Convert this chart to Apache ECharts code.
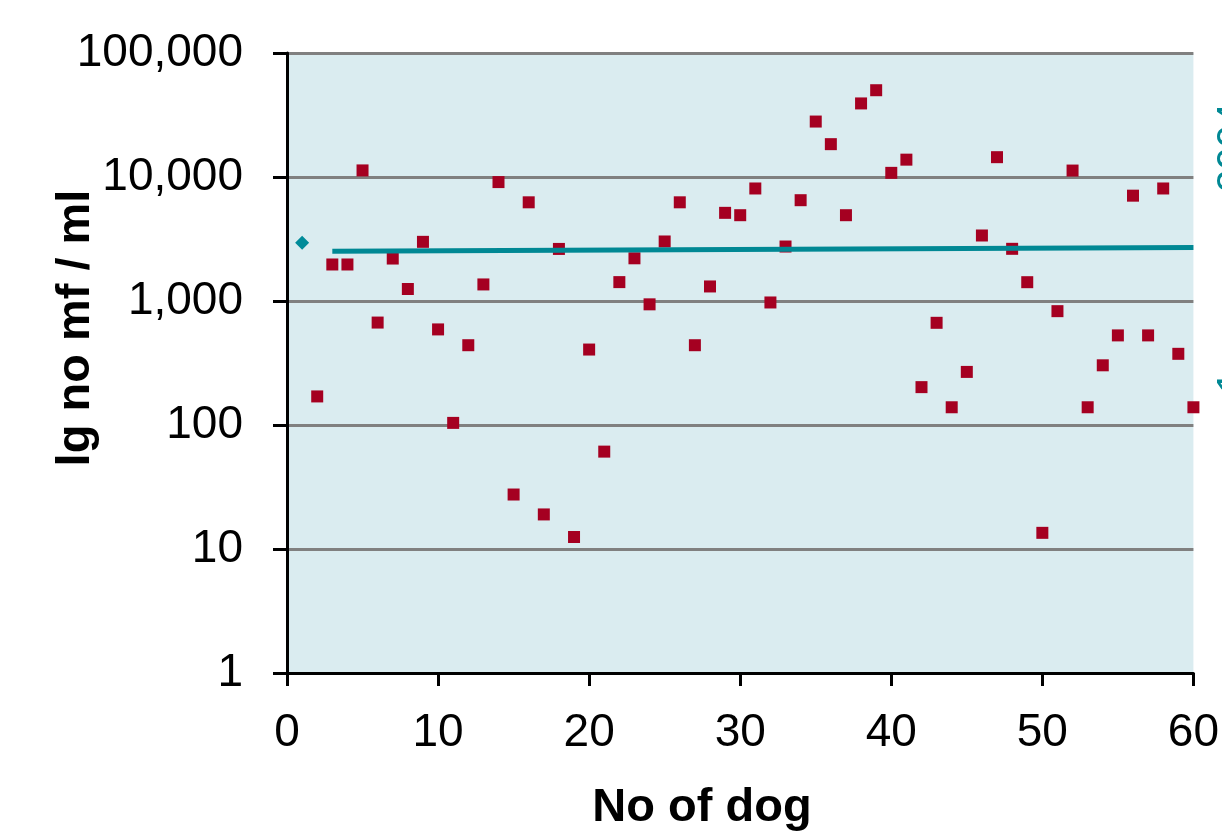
<!DOCTYPE html>
<html>
<head>
<meta charset="utf-8">
<script src="https://cdn.jsdelivr.net/npm/echarts@6/dist/echarts.min.js"></script>
<style>
html,body{margin:0;padding:0;background:#fff;}
#c{width:1222px;height:835px;}
</style>
</head>
<body>
<div id="c"></div>
<script>
// ---- data ----
var dogNumbers = [2,3,4,5,6,7,8,9,10,11,12,13,14,15,16,17,18,19,20,21,22,23,24,25,26,27,28,29,30,31,32,33,34,35,36,37,38,39,40,41,42,43,44,45,46,47,48,49,50,51,52,53,54,55,56,57,58,59,60];
var mfPerMl = [170,1970,1970,11300,670,2200,1250,3000,590,104,440,1360,9100,27.5,6250,19,2630,12.5,406,61,1420,2210,940,3020,6250,440,1310,5140,4920,8080,973,2750,6500,28000,18400,4920,39200,50100,10800,13800,202,667,139,268,3375,14450,2635,1418,13.5,828,11270,139,303,528,7070,528,8080,375,139];
var meanPoint = [[1, 2950]];
var trendLine = [[3, 2520], [60, 2700]];
var xTicks = [0, 10, 20, 30, 40, 50, 60];
var yTicks = [1, 10, 100, 1000, 10000, 100000];

var scatterData = dogNumbers.map(function (d, i) { return [d, mfPerMl[i]]; });

var chart = echarts.init(document.getElementById('c'));
var FONT = '"Liberation Sans", Arial, sans-serif';
chart.setOption({
  animation: false,
  backgroundColor: '#ffffff',
  grid: {
    left: 287, right: 27, top: 53, bottom: 162,
    show: true, backgroundColor: '#DAECF0', borderWidth: 0
  },
  xAxis: {
    type: 'value', min: xTicks[0], max: xTicks[xTicks.length - 1], interval: 10,
    axisLine: { show: true, onZero: false, lineStyle: { color: '#000', width: 3 } },
    axisTick: { show: true, inside: false, length: 13, lineStyle: { color: '#000', width: 3 } },
    axisLabel: { margin: 37, color: '#000', fontSize: 46, fontFamily: FONT },
    splitLine: { show: false }
  },
  yAxis: {
    type: 'log', logBase: 10, min: yTicks[0], max: yTicks[yTicks.length - 1],
    axisLine: { show: true, onZero: false, lineStyle: { color: '#000', width: 3 } },
    axisTick: { show: true, inside: false, length: 14, lineStyle: { color: '#000', width: 3 } },
    axisLabel: {
      margin: 44, color: '#000', fontSize: 46, fontFamily: FONT,
      formatter: function (v) { return Math.round(v).toLocaleString('en-US'); }
    },
    splitLine: { show: true, lineStyle: { color: '#808080', width: 3 } }
  },
  series: [
    {
      type: 'scatter', data: scatterData, symbol: 'rect', symbolSize: 12,
      itemStyle: { color: '#A50021', opacity: 1 }, z: 2
    },
    {
      type: 'scatter', data: meanPoint, symbol: 'diamond', symbolSize: [14, 14],
      itemStyle: { color: '#008B99', opacity: 1 }, z: 3
    },
    {
      type: 'line', data: trendLine, symbol: 'none', showSymbol: false,
      lineStyle: { color: '#008894', width: 5 }, z: 4
    }
  ],
  graphic: [
    {
      type: 'text', x: 76, y: 328, rotation: Math.PI / 2,
      style: { text: 'lg no mf / ml', font: 'bold 47px ' + FONT, fill: '#000', textAlign: 'center', textVerticalAlign: 'middle' }
    },
    {
      type: 'text', x: 702, y: 808,
      style: { text: 'No of dog', font: 'bold 47px ' + FONT, fill: '#000', textAlign: 'center', textVerticalAlign: 'middle' }
    },
    {
      type: 'text', x: 1214, y: 192, rotation: Math.PI / 2,
      style: { text: '2004', font: '40px ' + FONT, fill: '#008894', textAlign: 'left', textVerticalAlign: 'top' }
    },
    {
      type: 'text', x: 1214, y: 393, rotation: Math.PI / 2,
      style: { text: '1', font: '40px ' + FONT, fill: '#008894', textAlign: 'left', textVerticalAlign: 'top' }
    }
  ]
});
</script>
</body>
</html>
